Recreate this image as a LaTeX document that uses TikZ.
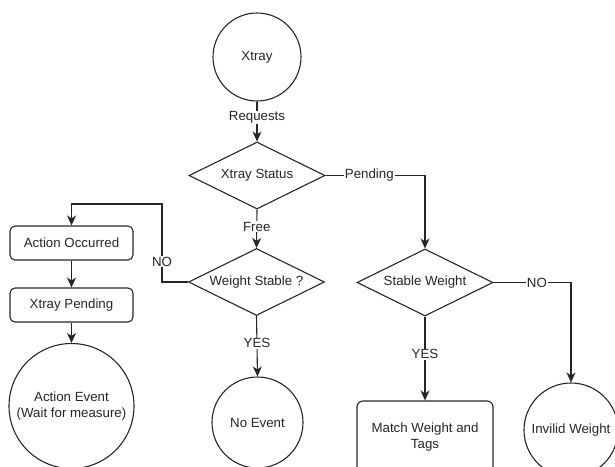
\documentclass[tikz,border=0pt]{standalone}
\usepackage{fontspec}
\setmainfont{Liberation Sans}
\usetikzlibrary{shapes.geometric,arrows.meta}
\begin{document}
\begin{tikzpicture}[x=1pt,y=-1pt,
  every node/.style={font=\fontsize{13.3}{16}\selectfont, text=black!85},
  base/.style={draw=black!85, line width=1.1pt},
  circ/.style={base, circle, minimum size=#1, inner sep=0pt},
  dia/.style={base, diamond, aspect=2, minimum width=136pt, minimum height=67pt, inner sep=0pt},
  rbox/.style={base, rounded corners=5pt, minimum width=123pt, minimum height=34pt, inner sep=0pt},
  conn/.style={draw=black!85, line width=1.1pt, -{Stealth[length=10pt,width=9pt,inset=3pt]}},
  lbl/.style={fill=white, inner sep=1pt}
]
\useasboundingbox (0,0) rectangle (615,466);

\node[circ=88pt] (xtray) at (257,57) {Xtray};
\node[dia] (status) at (257,175.5) {Xtray Status};
\node[dia] (ws) at (256.5,282) {Weight Stable ?};
\node[dia] (sw) at (425,282.5) {Stable Weight};
\node[rbox] (ao) at (71.5,243) {Action Occurred};
\node[rbox] (xp) at (71.5,305) {Xtray Pending};
\node[circ=125pt, align=center] (ae) at (71.5,406) {Action Event\\(Wait for measure)};
\node[circ=91pt] (ne) at (257.5,422.5) {No Event};
\node[base, rounded corners=6pt, minimum width=136pt, minimum height=72pt, inner sep=0pt, align=center] (mw) at (425,437) {Match Weight and\\Tags};
\node[circ=94pt] (iw) at (571,430) {Invilid Weight};

\coordinate (c1) at (162,204);

\draw[conn] (xtray) -- node[lbl, pos=0.4] {Requests} (status);
\draw[conn] (status.east) -| node[lbl, pos=0.22] {Pending} (sw.north);
\draw[conn] (status.south) -- node[lbl, pos=0.45] {Free} (ws.north);
\draw[conn] (ws.west) -| node[lbl, pos=0.63] {NO} (c1) -| (ao.north);
\draw[conn] (ao) -- (xp);
\draw[conn] (xp) -- (ae);
\draw[conn] (ws.south) -- node[lbl, pos=0.45] {YES} (ne.north);
\draw[conn] (sw.east) -| node[lbl, pos=0.28] {NO} (iw.north);
\draw[conn] (sw.south) -- node[lbl, pos=0.45] {YES} (mw.north);
\end{tikzpicture}
\end{document}
